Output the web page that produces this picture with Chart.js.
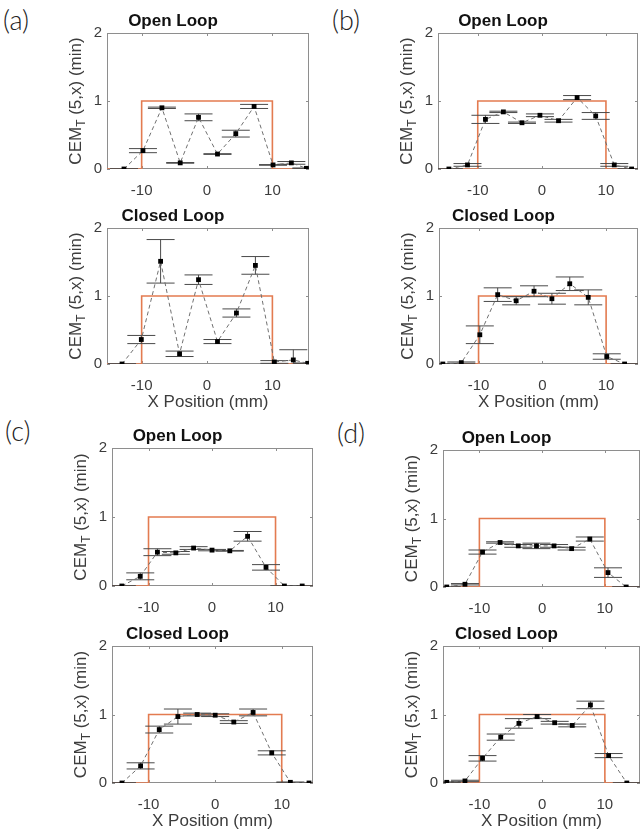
<!DOCTYPE html>
<html>
<head>
<meta charset="utf-8">
<script src="https://cdn.jsdelivr.net/npm/chart.js@4.4.1/dist/chart.umd.min.js"></script>
<style>
  html,body{margin:0;padding:0;background:#fff;overflow:hidden;}
  #fig{position:relative;width:641px;height:834px;overflow:hidden;}
  #fig canvas{position:absolute;}
  .tag{position:absolute;font-family:Lato,"Open Sans",sans-serif;font-weight:300;font-size:27px;line-height:30px;color:#222;}
</style>
</head>
<body>
<div id="fig">
  <div class="tag" style="left:3px;top:5px">(a)</div>
  <div class="tag" style="left:332px;top:5px">(b)</div>
  <div class="tag" style="left:5px;top:416px">(c)</div>
  <div class="tag" style="left:337px;top:418px">(d)</div>
</div>
<script>
// shared axis ticks and the planned thermal dose profile
const xTicks = [-10, 0, 10];
const yTicks = [0, 1, 2];
const planEdges = [-10, 10];
const planLevel = 1;

// (a)
const aOpenX   = [-12.7, -9.8, -6.9, -4.1, -1.3, 1.6, 4.4, 7.2, 10.1, 12.9, 15.2];
const aOpenY   = [0, 0.27, 0.90, 0.09, 0.76, 0.22, 0.52, 0.92, 0.06, 0.09, 0.01];
const aOpenErr = [0.005, 0.03, 0.01, 0.005, 0.05, 0.005, 0.05, 0.03, 0.005, 0.02, 0.005];
const aClosedX   = [-13.0, -10.05, -7.1, -4.2, -1.3, 1.6, 4.5, 7.4, 10.3, 13.2, 15.4];
const aClosedY   = [0, 0.36, 1.51, 0.15, 1.24, 0.33, 0.75, 1.45, 0.03, 0.06, 0.01];
const aClosedErr = [0.005, 0.06, 0.32, 0.04, 0.07, 0.03, 0.06, 0.13, 0.02, 0.15, 0.005];

// (b)
const bOpenX   = [-14.5, -11.6, -8.8, -6.0, -3.1, -0.3, 2.6, 5.5, 8.4, 11.3, 14.0];
const bOpenY   = [0, 0.06, 0.73, 0.84, 0.68, 0.79, 0.71, 1.05, 0.78, 0.06, 0];
const bOpenErr = [0.005, 0.02, 0.06, 0.01, 0.01, 0.02, 0.02, 0.03, 0.05, 0.02, 0.005];
const bClosedX   = [-15.6, -12.7, -9.8, -7.0, -4.1, -1.3, 1.5, 4.3, 7.2, 10.1, 12.9];
const bClosedY   = [0, 0.02, 0.43, 1.02, 0.93, 1.07, 0.96, 1.18, 0.98, 0.11, 0];
const bClosedErr = [0.005, 0.01, 0.13, 0.1, 0.06, 0.08, 0.08, 0.1, 0.11, 0.04, 0.005];

// (c)
const cOpenX   = [-14.2, -11.3, -8.6, -5.7, -2.9, 0, 2.8, 5.6, 8.5, 11.4, 14.2];
const cOpenY   = [0, 0.14, 0.49, 0.48, 0.55, 0.52, 0.51, 0.72, 0.27, 0, 0];
const cOpenErr = [0.005, 0.05, 0.05, 0.02, 0.02, 0.01, 0.005, 0.07, 0.04, 0.005, 0.005];
const cClosedX   = [-14.0, -11.2, -8.4, -5.6, -2.7, 0, 2.8, 5.7, 8.5, 11.3, 14.1];
const cClosedY   = [0, 0.25, 0.78, 0.97, 1.0, 0.99, 0.89, 1.03, 0.44, 0.01, 0];
const cClosedErr = [0.005, 0.045, 0.05, 0.11, 0.02, 0.02, 0.02, 0.05, 0.03, 0.005, 0.005];

// (d)
const dOpenX   = [-15.2, -12.3, -9.5, -6.7, -3.8, -0.9, 1.9, 4.7, 7.6, 10.5, 13.4];
const dOpenY   = [0, 0.04, 0.51, 0.65, 0.60, 0.60, 0.60, 0.56, 0.70, 0.21, 0];
const dOpenErr = [0.005, 0.01, 0.03, 0.01, 0.02, 0.04, 0.02, 0.02, 0.03, 0.07, 0.005];
const dClosedX   = [-15.2, -12.3, -9.5, -6.6, -3.7, -0.8, 2.0, 4.8, 7.7, 10.6, 13.5];
const dClosedY   = [0.01, 0.03, 0.36, 0.67, 0.87, 0.97, 0.88, 0.84, 1.14, 0.40, 0];
const dClosedErr = [0.005, 0.01, 0.04, 0.045, 0.07, 0.03, 0.02, 0.02, 0.055, 0.03, 0.005];

// x axis limits per panel
const aLim = [-15.3, 15.6];
const bLim = [-16.2, 15.0];
const cOpenLim = [-15.75, 15.9];
const cClosedLim = [-15.5, 14.7];
const dLim = [-15.8, 15.6];

const FONT = "'Liberation Sans', Arial, sans-serif";
const fig = document.getElementById("fig");

function panel(area, lim, xs, ys, errs, title, showXLabel){
  const padL = 70, padT = 28, padR = 6, padB = showXLabel ? 50 : 30;
  const w = area.r - area.l + padL + padR;
  const h = area.b - area.t + padT + padB;
  const cv = document.createElement("canvas");
  cv.width = w; cv.height = h;
  cv.style.left = (area.l - padL) + "px";
  cv.style.top = (area.t - padT) + "px";
  fig.appendChild(cv);

  const plan = [
    {x: lim[0], y: 0}, {x: planEdges[0], y: 0}, {x: planEdges[0], y: planLevel},
    {x: planEdges[1], y: planLevel}, {x: planEdges[1], y: 0}, {x: lim[1], y: 0}
  ];
  const pts = xs.map((x, i) => ({x, y: ys[i]}));

  // box + inward ticks, matlab style
  const frame = {
    id: "frame",
    beforeDatasetsDraw(chart){
      const {ctx, chartArea: a, scales} = chart;
      ctx.save();
      ctx.strokeStyle = "#8e8e8e";
      ctx.lineWidth = 1;
      ctx.strokeRect(a.left + 0.5, a.top + 0.5, a.width - 1, a.height - 1);
      ctx.beginPath();
      xTicks.forEach(v => {
        const px = Math.round(scales.x.getPixelForValue(v)) + 0.5;
        ctx.moveTo(px, a.bottom); ctx.lineTo(px, a.bottom - 3);
        ctx.moveTo(px, a.top); ctx.lineTo(px, a.top + 3);
      });
      yTicks.forEach(v => {
        const py = Math.round(scales.y.getPixelForValue(v)) + 0.5;
        ctx.moveTo(a.left, py); ctx.lineTo(a.left + 3, py);
        ctx.moveTo(a.right, py); ctx.lineTo(a.right - 3, py);
      });
      ctx.stroke();
      ctx.restore();
    }
  };

  // vertical error bars with wide caps, under the markers
  const errorBars = {
    id: "errorBars",
    beforeDatasetDraw(chart, args){
      if(args.index !== 1) return;
      const {ctx, chartArea: a, scales} = chart;
      ctx.save();
      ctx.beginPath();
      ctx.rect(a.left, a.top, a.width, a.height);
      ctx.clip();
      ctx.strokeStyle = "#4a4a4a";
      ctx.lineWidth = 1;
      ctx.beginPath();
      xs.forEach((x, i) => {
        const px = scales.x.getPixelForValue(x);
        const hi = scales.y.getPixelForValue(ys[i] + errs[i]);
        const lo = scales.y.getPixelForValue(ys[i] - errs[i]);
        ctx.moveTo(px, hi); ctx.lineTo(px, lo);
        ctx.moveTo(px - 14, hi); ctx.lineTo(px + 14, hi);
        ctx.moveTo(px - 14, lo); ctx.lineTo(px + 14, lo);
      });
      ctx.stroke();
      ctx.restore();
    }
  };

  // rotated y label with subscript T
  const yLabel = {
    id: "yLabel",
    afterDraw(chart){
      const {ctx, chartArea: a} = chart;
      const big = "17px " + FONT, small = "12px " + FONT;
      const p1 = "CEM", p2 = "T", p3 = " (5,x) (min)";
      ctx.save();
      ctx.font = big;
      const w1 = ctx.measureText(p1).width, w3 = ctx.measureText(p3).width;
      ctx.font = small;
      const w2 = ctx.measureText(p2).width;
      ctx.translate(a.left - 31, (a.top + a.bottom) / 2);
      ctx.rotate(-Math.PI / 2);
      ctx.fillStyle = "#3c3c3c";
      ctx.textBaseline = "middle";
      let x = -(w1 + w2 + w3) / 2;
      ctx.font = big; ctx.fillText(p1, x, 0); x += w1;
      ctx.font = small; ctx.fillText(p2, x, 6); x += w2;
      ctx.font = big; ctx.fillText(p3, x, 0);
      ctx.restore();
    }
  };

  new Chart(cv, {
    type: "scatter",
    data: {
      datasets: [
        { data: plan, showLine: true, borderColor: "#E37B50", borderWidth: 1.6,
          pointRadius: 0, order: 1 },
        { data: pts, showLine: true, borderColor: "#707070", borderWidth: 1,
          borderDash: [4, 3], pointStyle: "rect", pointRadius: 3.4,
          pointBackgroundColor: "#000", pointBorderColor: "#000", pointBorderWidth: 0, order: 0 }
      ]
    },
    options: {
      responsive: false,
      animation: false,
      layout: { padding: { top: 6, right: padR, left: 0, bottom: 0 } },
      plugins: {
        legend: { display: false },
        tooltip: { enabled: false },
        title: { display: true, text: title, color: "#111",
          font: { family: FONT, size: 17, weight: "bold", lineHeight: "20px" },
          padding: { top: 0, bottom: 2 } }
      },
      scales: {
        x: {
          type: "linear", min: lim[0], max: lim[1],
          afterBuildTicks: s => { s.ticks = xTicks.map(v => ({ value: v })); },
          afterFit: s => { s.height = padB; },
          grid: { display: false, drawTicks: false },
          border: { display: false },
          ticks: { color: "#3c3c3c", padding: 13, font: { family: FONT, size: 15 } },
          title: { display: showXLabel, text: "X Position (mm)", color: "#3c3c3c",
            font: { family: FONT, size: 17, lineHeight: "20px" }, padding: { top: 0, bottom: 2 } }
        },
        y: {
          min: 0, max: 2,
          afterBuildTicks: s => { s.ticks = yTicks.map(v => ({ value: v })); },
          afterFit: s => { s.width = padL; },
          grid: { display: false, drawTicks: false },
          border: { display: false },
          ticks: { color: "#3c3c3c", padding: 5, font: { family: FONT, size: 15 } }
        }
      }
    },
    plugins: [frame, errorBars, yLabel]
  });
}

panel({l: 107, r: 309, t: 33,  b: 169}, aLim, aOpenX, aOpenY, aOpenErr, "Open Loop", false);
panel({l: 107, r: 309, t: 228, b: 364}, aLim, aClosedX, aClosedY, aClosedErr, "Closed Loop", true);
panel({l: 438, r: 638, t: 33,  b: 169}, bLim, bOpenX, bOpenY, bOpenErr, "Open Loop", false);
panel({l: 439, r: 638, t: 228, b: 364}, bLim, bClosedX, bClosedY, bClosedErr, "Closed Loop", true);
panel({l: 112, r: 313, t: 448, b: 586}, cOpenLim, cOpenX, cOpenY, cOpenErr, "Open Loop", false);
panel({l: 112, r: 313, t: 646, b: 783}, cClosedLim, cClosedX, cClosedY, cClosedErr, "Closed Loop", true);
panel({l: 443, r: 640, t: 450, b: 587}, dLim, dOpenX, dOpenY, dOpenErr, "Open Loop", false);
panel({l: 443, r: 640, t: 646, b: 783}, dLim, dClosedX, dClosedY, dClosedErr, "Closed Loop", true);
</script>
</body>
</html>
